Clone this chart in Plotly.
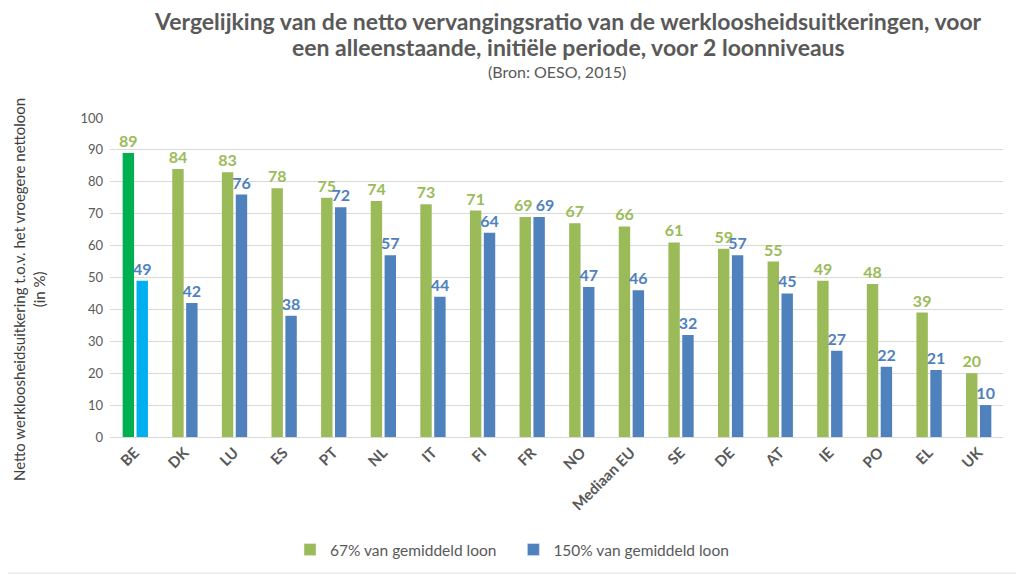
import plotly.graph_objects as go

categories = ["BE", "DK", "LU", "ES", "PT", "NL", "IT", "FI", "FR", "NO",
              "Mediaan EU", "SE", "DE", "AT", "IE", "PO", "EL", "UK"]
loon67 = [89, 84, 83, 78, 75, 74, 73, 71, 69, 67, 66, 61, 59, 55, 49, 48, 39, 20]
loon150 = [49, 42, 76, 38, 72, 57, 44, 64, 69, 47, 46, 32, 57, 45, 27, 22, 21, 10]

green = "#9bbb59"
blue = "#4f81bd"
green_colors = ["#00b050"] + [green] * (len(categories) - 1)
blue_colors = ["#00b0f0"] + [blue] * (len(categories) - 1)

# labels of equal-height pairs are nudged apart (as in the original)
NB = "\u00a0"
green_text = [f"{g}{NB}" if g == b else f"{g}" for g, b in zip(loon67, loon150)]
blue_text = [f"{NB * 3}{b}" if g == b else f"{b}" for g, b in zip(loon67, loon150)]

font_family = "Lato"
label_font = dict(size=16, family=font_family, weight="bold")

fig = go.Figure()
fig.add_trace(go.Bar(
    x=categories, y=loon67, name="67% van gemiddeld loon",
    marker=dict(color=green_colors, line=dict(width=0)),
    width=0.23, offset=-0.245,
    text=green_text, textposition="outside", constraintext="none",
    textfont=dict(color=green, **label_font),
    cliponaxis=False, showlegend=False,
))
fig.add_trace(go.Bar(
    x=categories, y=loon150, name="150% van gemiddeld loon",
    marker=dict(color=blue_colors, line=dict(width=0)),
    width=0.23, offset=0.035,
    text=blue_text, textposition="outside", constraintext="none",
    textfont=dict(color=blue, **label_font),
    cliponaxis=False, showlegend=False,
))
# legend swatches with the standard colours
fig.add_trace(go.Bar(x=[None], y=[None], name="67% van gemiddeld loon" + "&nbsp;" * 3,
                     marker=dict(color=green), showlegend=True))
fig.add_trace(go.Bar(x=[None], y=[None], name="150% van gemiddeld loon",
                     marker=dict(color=blue), showlegend=True))

# page has an 8px body margin: work in screen pixels and shift
OFF = 8
W, H = 1024 - OFF, 576 - OFF
PL, PR, PT, PB = 110, 1003, 118, 437          # plot area in screen pixels
L, R, T, B = PL - OFF, W - (PR - OFF), PT - OFF, H - (PB - OFF)
pw, ph = W - L - R, H - T - B

def px_x(px):
    return (px - OFF - L) / pw

def px_y(py):
    return (H - B - (py - OFF)) / ph

fig.update_layout(
    width=W, height=H,
    paper_bgcolor="white", plot_bgcolor="white",
    font=dict(family=font_family, color="#595959"),
    barmode="overlay",
    margin=dict(l=L, r=R, t=T, b=B, autoexpand=False),
    xaxis=dict(
        tickangle=-45, tickfont=dict(size=15, color="#595959", family=font_family, weight="bold"),
        showgrid=False, showline=True, linecolor="#d9d9d9", ticks="", automargin=False,
    ),
    yaxis=dict(
        range=[0, 100], dtick=10, showgrid=True, gridcolor="#d9d9d9",
        tickfont=dict(size=13, color="#595959"), zeroline=False, automargin=False,
        ticklabelstandoff=6,
    ),
    legend=dict(orientation="h", x=px_x(512), xanchor="center", y=px_y(550), yanchor="middle",
                font=dict(size=15.5, color="#595959"), itemwidth=30),
    annotations=[
        dict(text="<b>Vergelijking van de netto vervangingsratio van de werkloosheidsuitkeringen, voor</b>",
             x=px_x(568), y=px_y(21), xref="paper", yref="paper", showarrow=False,
             xanchor="center", yanchor="middle", font=dict(size=23, color="#595959")),
        dict(text="<b>een alleenstaande, initiële periode, voor 2 loonniveaus</b>",
             x=px_x(568), y=px_y(47), xref="paper", yref="paper", showarrow=False,
             xanchor="center", yanchor="middle", font=dict(size=23, color="#595959")),
        dict(text="(Bron: OESO, 2015)",
             x=px_x(557), y=px_y(72), xref="paper", yref="paper", showarrow=False,
             xanchor="center", yanchor="middle", font=dict(size=16, color="#595959")),
        dict(text="Netto werkloosheidsuitkering t.o.v. het vroegere nettoloon<br>(in %)",
             x=px_x(29), y=px_y(290), xref="paper", yref="paper", showarrow=False,
             xanchor="center", yanchor="middle", textangle=-90,
             font=dict(size=15, color="#404040")),
    ],
    shapes=[
        dict(type="line", xref="paper", yref="paper",
             x0=px_x(1018), x1=px_x(1018), y0=px_y(573), y1=px_y(8),
             line=dict(color="#e0e0e0", width=1), layer="below"),
        dict(type="line", xref="paper", yref="paper",
             x0=px_x(8), x1=px_x(1018), y0=px_y(573), y1=px_y(573),
             line=dict(color="#e0e0e0", width=1), layer="below"),
    ],
)

fig.write_html("out.html")
